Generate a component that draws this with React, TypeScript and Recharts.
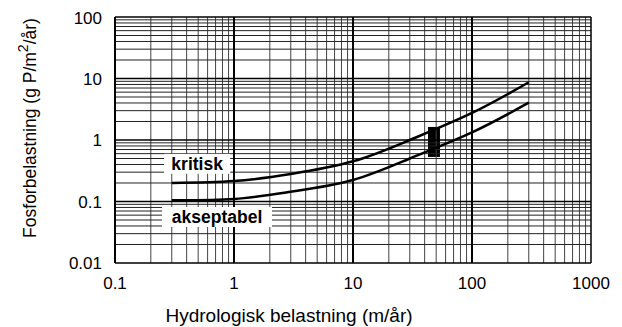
import React from 'react';
import { LineChart, Line, XAxis, YAxis, ReferenceLine, ReferenceArea, ReferenceDot } from 'recharts';

const xTicks = [0.1, 1, 10, 100, 1000];
const yTicks = [0.01, 0.1, 1, 10, 100];

const qs = [0.3, 1, 3, 10, 30, 100, 300];
const kritisk = [0.2, 0.215, 0.28, 0.45, 1.0, 2.75, 8.7];
const akseptabel = [0.105, 0.11, 0.144, 0.224, 0.5, 1.33, 4.04];

const boxX = [42.7, 53.8];
const boxY = [0.53, 1.63];

const labelKritisk = { x: 0.49, y: 0.41, text: 'kritisk' };
const labelAkseptabel = { x: 0.72, y: 0.056, text: 'akseptabel' };

const xDecades = [0.1, 1, 10, 100];
const yDecades = [0.01, 0.1, 1, 10];
const mult = [2, 3, 4, 5, 6, 7, 8, 9];

const xMinor = xDecades.flatMap((d) => mult.map((m) => +(d * m).toPrecision(3)));
const yMinor = yDecades.flatMap((d) => mult.map((m) => +(d * m).toPrecision(3)));
const xMajor = [1, 10, 100];
const yMajor = [0.1, 1, 10];

const kritiskData = qs.map((x, i) => ({ x, y: kritisk[i] }));
const akseptabelData = qs.map((x, i) => ({ x, y: akseptabel[i] }));

const FONT = 'Liberation Sans, Arial, Helvetica, sans-serif';

const makeLabelShape = (text: string, w: number) => (props: any) => {
  const { cx, cy } = props;
  return (
    <g>
      <rect x={cx - w / 2} y={cy - 10} width={w} height={20} fill="#fff" />
      <text x={cx} y={cy} textAnchor="middle" dominantBaseline="central" fontFamily={FONT} fontWeight="bold" fontSize={17.5} fill="#000">
        {text}
      </text>
    </g>
  );
};

export default function App() {
  return (
    <div style={{ fontFamily: FONT }}>
      <LineChart width={614} height={319} margin={{ top: 9, right: 31, bottom: 34, left: 47 }}>
        <XAxis
          dataKey="x"
          type="number"
          scale="log"
          domain={[0.1, 1000]}
          ticks={xTicks}
          allowDataOverflow
          tickFormatter={(v: number) => String(v)}
          tickLine={false}
          axisLine={false}
          tickSize={0}
          tickMargin={14}
          height={30}
          tick={{ fill: '#000', fontSize: 17, fontFamily: FONT }}
          label={{
            content: () => (
              <text x={281} y={307} textAnchor="middle" dominantBaseline="central" fontFamily={FONT} fontSize={19} fill="#000">
                Hydrologisk belastning (m/år)
              </text>
            ),
          }}
        />
        <YAxis
          dataKey="y"
          type="number"
          scale="log"
          domain={[0.01, 100]}
          ticks={yTicks}
          allowDataOverflow
          tickFormatter={(v: number) => String(v)}
          tickLine={false}
          axisLine={false}
          tickSize={0}
          tickMargin={13}
          width={60}
          tick={{ fill: '#000', fontSize: 17, fontFamily: FONT }}
          label={{
            content: () => (
              <text
                x={22}
                y={120}
                transform="rotate(-90 22 120)"
                textAnchor="middle"
                dominantBaseline="central"
                fontFamily={FONT}
                fontSize={17.5}
                fill="#000"
              >
                Fosforbelastning (g P/m
                <tspan dy={-7} fontSize={14}>2</tspan>
                <tspan dy={7}>/år)</tspan>
              </text>
            ),
          }}
        />
        {xMinor.map((v) => (
          <ReferenceLine key={'xm' + v} x={v} stroke="#444" strokeWidth={1} />
        ))}
        {yMinor.map((v) => (
          <ReferenceLine key={'ym' + v} y={v} stroke="#222" strokeWidth={1} />
        ))}
        {xMajor.map((v) => (
          <ReferenceLine key={'xM' + v} x={v} stroke="#000" strokeWidth={2} />
        ))}
        {yMajor.map((v) => (
          <ReferenceLine key={'yM' + v} y={v} stroke="#000" strokeWidth={1.5} />
        ))}
        <ReferenceLine x={0.1} stroke="#000" strokeWidth={2} ifOverflow="visible" />
        <ReferenceLine x={1000} stroke="#000" strokeWidth={1.5} ifOverflow="visible" />
        <ReferenceLine y={0.01} stroke="#000" strokeWidth={1.5} ifOverflow="visible" />
        <ReferenceLine y={100} stroke="#000" strokeWidth={1.5} ifOverflow="visible" />
        <Line data={kritiskData} dataKey="y" type="natural" stroke="#000" strokeWidth={2.5} dot={false} isAnimationActive={false} />
        <Line data={akseptabelData} dataKey="y" type="natural" stroke="#000" strokeWidth={2.5} dot={false} isAnimationActive={false} />
        <ReferenceArea x1={boxX[0]} x2={boxX[1]} y1={boxY[0]} y2={boxY[1]} fill="#000" fillOpacity={1} stroke="none" ifOverflow="visible" />
        <ReferenceDot x={labelKritisk.x} y={labelKritisk.y} r={0} shape={makeLabelShape(labelKritisk.text, 66)} ifOverflow="visible" />
        <ReferenceDot x={labelAkseptabel.x} y={labelAkseptabel.y} r={0} shape={makeLabelShape(labelAkseptabel.text, 110)} ifOverflow="visible" />
      </LineChart>
    </div>
  );
}
